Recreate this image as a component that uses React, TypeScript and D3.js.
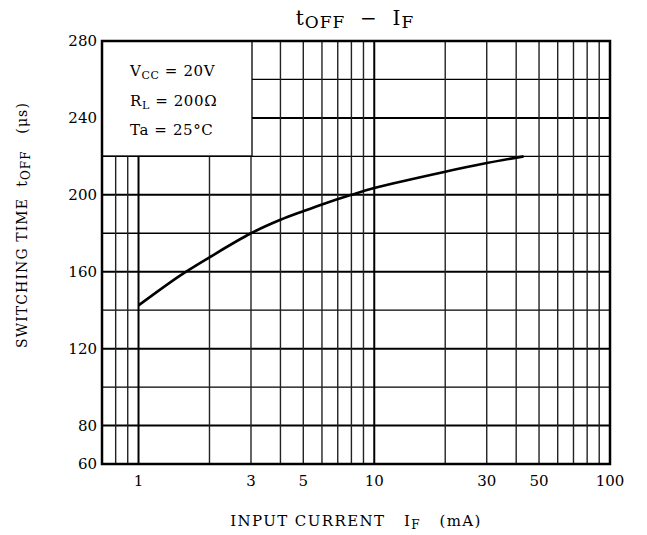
import React from "react";
import * as d3 from "d3";

const curveX = [1, 1.5, 2, 3, 4, 5, 6, 8, 10, 20, 30, 43];
const curveY = [142.5, 158, 167.5, 180, 187, 191.5, 195, 200, 203.5, 212, 216.5, 220];
const xTicks = [1, 3, 5, 10, 30, 50, 100];
const yTicks = [60, 80, 120, 160, 200, 240, 280];
const xGrid = [0.8, 0.9, 1, 2, 3, 4, 5, 6, 7, 8, 9, 10, 20, 30, 40, 50, 60, 70, 80, 90];
const yGrid = [80, 100, 120, 140, 160, 180, 200, 220, 240, 260];

const W = 647, H = 535;
const L = 102, R = 610, T = 41, B = 464;
const FONT = "'DejaVu Serif', 'Liberation Serif', serif";

export default function App() {
  const x = d3.scaleLog().domain([0.7, 100]).range([L, R]);
  const y = d3.scaleLinear().domain([60, 280]).range([B, T]);
  const line = d3.line<number>().x((_, i) => x(curveX[i])).y((d) => y(d)).curve(d3.curveCatmullRom);
  const boxR = 252, boxB = 156;
  return (
    <svg width={W} height={H} style={{ position: "absolute", left: 0, top: 0, background: "#fff" }} fontFamily={FONT}>
      <rect width={W} height={H} fill="#fff" />
      {yGrid.map((v) => (
        <line key={"h" + v} x1={L} x2={R} y1={y(v)} y2={y(v)} stroke="#000" strokeWidth={v % 40 === 0 ? 2 : 1.3} />
      ))}
      {xGrid.map((v) => (
        <line key={"v" + v} x1={x(v)} x2={x(v)} y1={T} y2={B} stroke={v === 1 || v === 10 ? "#000" : "#222"} strokeWidth={v === 1 || v === 10 ? 2 : 1.4} />
      ))}
      <rect x={L} y={T} width={boxR - L} height={boxB - T} fill="#fff" stroke="#000" strokeWidth={1.3} />
      <path d={line(curveY) || ""} fill="none" stroke="#000" strokeWidth={2.6} />
      <rect x={L} y={T} width={R - L} height={B - T} fill="none" stroke="#000" strokeWidth={2.5} />
      <g fontSize={15} fill="#000" letterSpacing={0.6}>
        <text x={130} y={76}>V<tspan fontSize={11} dy={3}>CC</tspan><tspan dy={-3}> = 20V</tspan></text>
        <text x={130} y={106}>R<tspan fontSize={11} dy={3}>L</tspan><tspan dy={-3}> = 200Ω</tspan></text>
        <text x={130} y={135}>Ta = 25°C</text>
      </g>
      <g fontSize={15} fill="#000">
        {yTicks.map((v) => (
          <text key={"yt" + v} x={97} y={y(v) + 5} textAnchor="end">{v}</text>
        ))}
        {xTicks.map((v) => (
          <text key={"xt" + v} x={x(v)} y={486} textAnchor="middle">{v}</text>
        ))}
      </g>
      <text x={355} y={25} textAnchor="middle" fontSize={20} fill="#000" xmlSpace="preserve" letterSpacing={1}>
        t<tspan fontSize={17} dy={3}>OFF</tspan><tspan dy={-3}>  −  I</tspan><tspan fontSize={17} dy={3}>F</tspan>
      </text>
      <text x={356} y={526} textAnchor="middle" fontSize={15} fill="#000" xmlSpace="preserve" letterSpacing={1.4}>
        INPUT CURRENT   I<tspan fontSize={12} dy={3}>F</tspan><tspan dy={-3}>   (mA)</tspan>
      </text>
      <text transform="translate(27,225) rotate(-90)" textAnchor="middle" fontSize={14} fill="#000" xmlSpace="preserve" letterSpacing={1.1}>
        SWITCHING TIME  t<tspan fontSize={12} dy={3}>OFF</tspan><tspan dy={-3}>   (μs)</tspan>
      </text>
    </svg>
  );
}
